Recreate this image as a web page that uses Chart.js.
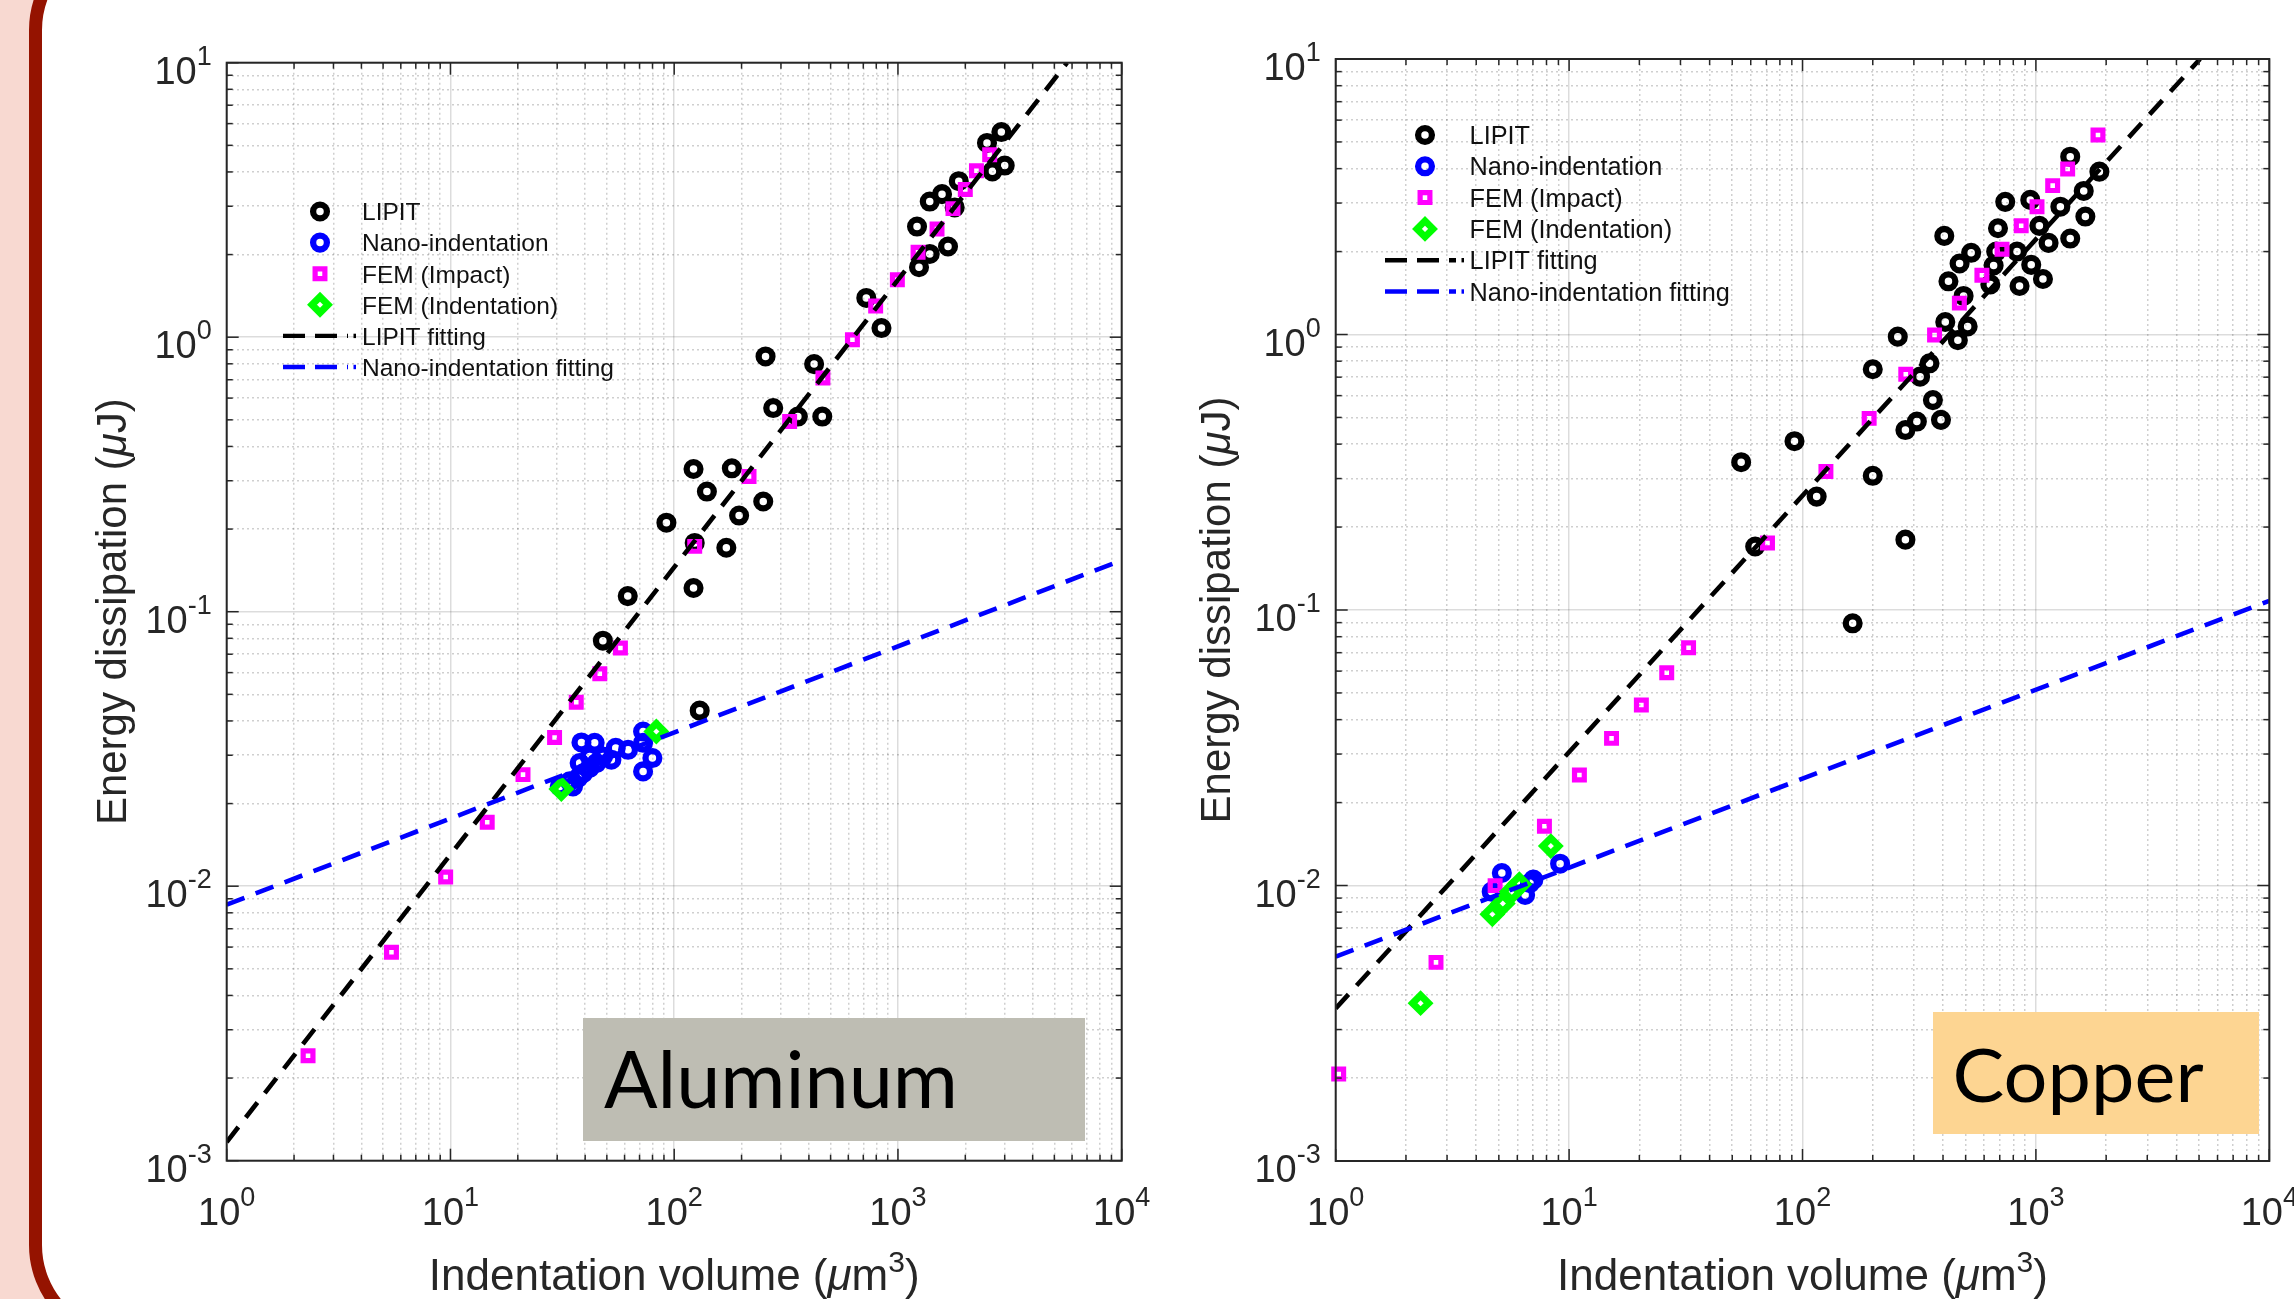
<!DOCTYPE html>
<html><head><meta charset="utf-8">
<script src="https://cdn.jsdelivr.net/npm/chart.js@4.4.1/dist/chart.umd.min.js"></script>
<style>
html,body{margin:0;padding:0;}
body{width:2294px;height:1299px;overflow:hidden;position:relative;background:#f8d9d1;}
#frame{position:absolute;left:29px;top:-70px;width:2400px;height:1415px;box-sizing:border-box;border:13px solid #951300;border-radius:100px;background:#fff;}
canvas{position:absolute;top:0;}
#cAl{left:0;}
#cCu{left:1170px;}
</style></head><body>
<div id="frame"></div>
<canvas id="cAl" width="1170" height="1299"></canvas>
<canvas id="cCu" width="1124" height="1299"></canvas>
<script>
// ---------------- Aluminum data ----------------
const alLipitX = [2899,2500,3000,2643,1870,1574,1387,1793,1217,1674,1387,1242,722,844,256,422,277,357,459,181,122,140,250,195,92.3,123.5,171,122,62,48,130];
const alLipitY = [5.59,5.10,4.22,4.02,3.70,3.32,3.12,2.97,2.53,2.14,2.01,1.80,1.39,1.08,0.851,0.798,0.552,0.514,0.514,0.333,0.331,0.274,0.252,0.224,0.211,0.178,0.171,0.122,0.114,0.0784,0.0436];
const alNanoX = [38.5,44.1,54.8,62.2,52.4,72.6,72.6,79.9,72.6,30.8,34.1,37.2,39.2,41.9,44.9,37.8,41.9,35.3,48.1];
const alNanoY = [0.0334,0.0333,0.0319,0.0314,0.0289,0.0366,0.0333,0.0293,0.0262,0.0231,0.0241,0.0248,0.0258,0.0270,0.0281,0.0281,0.0297,0.0231,0.0297];
const alFemImpX = [2570,2243,2000,1762,1495,1230,994,795,626,462,328,216,123.5,57.5,46.5,36.5,29.2,21.1,14.6,9.52,5.45,2.31];
const alFemImpY = [4.62,4.04,3.45,2.94,2.48,2.04,1.62,1.30,0.979,0.710,0.493,0.311,0.173,0.0738,0.0594,0.0468,0.0348,0.0255,0.0171,0.0108,0.00575,0.00241];
const alFemIndX = [31.3,83.2];
const alFemIndY = [0.0226,0.0366];
const alLipitFitX = [1,5700];
const alLipitFitY = [0.00117,10];
const alNanoFitX = [1,10000];
const alNanoFitY = [0.00857,0.154];

// ---------------- Copper data ----------------
const cuLipitX = [1403,1871,1603,739,946,1273,1629,688,1035,405,1403,1133,528,830,676,471,955,659,422,638,851,1072,490,409,510,463,256,350,319,200,362,309,276,392,200,92.4,54.6,115,62.7,276,164];
const cuLipitY = [4.42,3.90,3.32,3.03,3.08,2.91,2.68,2.43,2.48,2.28,2.23,2.15,1.98,2.00,2.00,1.81,1.79,1.78,1.56,1.52,1.50,1.59,1.38,1.11,1.07,0.954,0.982,0.786,0.703,0.748,0.578,0.483,0.450,0.490,0.307,0.410,0.344,0.258,0.170,0.180,0.0895];
const cuNanoX = [5.15,4.66,6.48,7.03,9.15,6.8];
const cuNanoY = [0.0111,0.0095,0.00924,0.0105,0.0120,0.0102];
const cuFemImpX = [1845,1368,1180,1011,865,716,587,470,368,277,193,126,70.8,32.5,26.2,20.4,15.2,11.07,7.84,4.82,2.69,1.03];
const cuFemImpY = [5.30,3.99,3.47,2.91,2.48,2.04,1.64,1.30,0.996,0.717,0.496,0.318,0.175,0.0730,0.0592,0.0452,0.0342,0.0252,0.0164,0.00999,0.00526,0.00207];
const cuFemIndX = [8.35,2.31,4.69,5.20,5.68,6.12];
const cuFemIndY = [0.0139,0.00374,0.00786,0.00861,0.00949,0.0101];
const cuLipitFitX = [1,5050];
const cuLipitFitY = [0.00358,10];
const cuNanoFitX = [1,10000];
const cuNanoFitY = [0.00552,0.108];

// ---------------- axes / labels ----------------
const xMajor = [1,10,100,1000,10000];
const yMajor = [0.001,0.01,0.1,1,10];
const xTickLabels = ['10^0','10^1','10^2','10^3','10^4'];
const yTickLabels = ['10^-3','10^-2','10^-1','10^0','10^1'];
const legendLabels = ['LIPIT','Nano-indentation','FEM (Impact)','FEM (Indentation)','LIPIT fitting','Nano-indentation fitting'];
const xTitleParts = [{t:'Indentation volume ('},{t:'\u03bc',i:true},{t:'m'},{t:'3',sup:true},{t:')'}];
const yTitleParts = [{t:'Energy dissipation ('},{t:'\u03bc',i:true},{t:'J)'}];

const FONT = '"Liberation Sans", Arial, Helvetica, sans-serif';
const TXT = '#262626';
const COLORS = {lipit:'#000000', nano:'#0000ff', imp:'#ff00ff', ind:'#00ff00'};
const MK = {
  circle:{style:'circle', r:6.9, w:6.3},
  rect:{style:'rect', r:6.9, w:5.2},
  rectRot:{style:'rectRot', r:8, w:7}
};
const DASH = [19,12];

function withMinor(majors){
  const out = [];
  for (let i = 0; i < majors.length; i++) {
    out.push(majors[i]);
    if (i < majors.length - 1) for (let k = 2; k <= 9; k++) out.push(+(majors[i]*k).toPrecision(6));
  }
  return out;
}
function isMajor(v){ const l = Math.log10(v); return Math.abs(l - Math.round(l)) < 1e-6; }
const pts = (xs, ys) => xs.map((x, i) => ({x: x, y: ys[i]}));

function scatterSet(label, xs, ys, mk, color, order){
  return {label, data: pts(xs, ys), showLine:false, pointStyle:mk.style, pointRadius:mk.r, pointHoverRadius:mk.r,
    pointBorderWidth:mk.w, pointHoverBorderWidth:mk.w, pointBorderColor:color, pointBackgroundColor:'rgba(0,0,0,0)',
    borderColor:color, borderWidth:mk.w, backgroundColor:'rgba(0,0,0,0)', order, clip:false};
}
function lineSet(label, xs, ys, color, order){
  return {label, data: pts(xs, ys), showLine:true, borderColor:color, borderWidth:4.6, borderDash:DASH,
    borderCapStyle:'butt', pointRadius:0, pointHoverRadius:0, fill:false, tension:0, order};
}
function scaleOpts(min, max, majors){
  const tv = withMinor(majors);
  return {
    type:'logarithmic', min, max, display:true,
    afterBuildTicks: s => { s.ticks = tv.map(v => ({value:v, major:isMajor(v)})); },
    ticks:{display:false},
    grid:{drawTicks:false, lineWidth:1.5,
      color: c => (c.tick && c.tick.major) ? 'rgba(38,38,38,0.16)' : 'rgba(38,38,38,0.22)'},
    border:{display:false, dash: c => (c.tick && !c.tick.major) ? [2,3] : []}
  };
}

function partsWidth(ctx, parts, size, supSize){
  let w = 0;
  parts.forEach(p => {
    ctx.font = (p.i ? 'italic ' : '') + (p.sup ? supSize : size) + 'px ' + FONT;
    p._w = ctx.measureText(p.t).width; w += p._w;
  });
  return w;
}
function drawParts(ctx, parts, x0, y, size, supSize, supDy){
  let x = x0;
  parts.forEach(p => {
    ctx.font = (p.i ? 'italic ' : '') + (p.sup ? supSize : size) + 'px ' + FONT;
    ctx.fillText(p.t, x, p.sup ? y + supDy : y);
    x += p._w;
  });
}
function supLabel(ctx, label, x, y, align, baseSize, expSize, expDy){
  const [b, e] = label.split('^');
  ctx.font = baseSize + 'px ' + FONT; const wb = ctx.measureText(b).width;
  ctx.font = expSize + 'px ' + FONT; const we = ctx.measureText(e).width;
  const tot = wb + we;
  const x0 = align === 'center' ? x - tot/2 : (align === 'right' ? x - tot : x);
  ctx.textAlign = 'left';
  ctx.font = baseSize + 'px ' + FONT; ctx.fillText(b, x0, y);
  ctx.font = expSize + 'px ' + FONT; ctx.fillText(e, x0 + wb, y + expDy);
}
function drawMarker(ctx, mk, x, y, color){
  ctx.save(); ctx.strokeStyle = color; ctx.lineWidth = mk.w; ctx.setLineDash([]);
  ctx.beginPath();
  if (mk.style === 'circle') ctx.arc(x, y, mk.r, 0, Math.PI*2);
  else if (mk.style === 'rect') { const s = mk.r*Math.SQRT1_2; ctx.rect(x-s, y-s, 2*s, 2*s); }
  else { ctx.moveTo(x-mk.r, y); ctx.lineTo(x, y-mk.r); ctx.lineTo(x+mk.r, y); ctx.lineTo(x, y+mk.r); ctx.closePath(); }
  ctx.stroke(); ctx.restore();
}

const matlabPlugin = {
  id:'matlab',
  afterDraw(chart, args, o){
    const ctx = chart.ctx, a = chart.chartArea, xs = chart.scales.x, ys = chart.scales.y, off = o.offset;
    ctx.save();
    // annotation box
    ctx.fillStyle = o.boxColor;
    ctx.fillRect(o.boxX - off, o.boxY, o.boxW, o.boxH);
    ctx.fillStyle = '#000';
    ctx.font = o.boxFont + 'px Lato, "Open Sans", sans-serif';
    ctx.textAlign = 'left'; ctx.textBaseline = 'alphabetic';
    const mw = ctx.measureText(o.boxText).width;
    ctx.save(); ctx.translate(o.boxTextX - off, o.boxTextY); ctx.scale(o.boxTextW / mw, 1);
    ctx.fillText(o.boxText, 0, 0); ctx.restore();

    // axes box and tick marks
    ctx.strokeStyle = TXT; ctx.setLineDash([]);
    ctx.lineWidth = 1.5;
    const ln = (x1,y1,x2,y2) => { ctx.beginPath(); ctx.moveTo(x1,y1); ctx.lineTo(x2,y2); ctx.stroke(); };
    xs.ticks.forEach(t => {
      const p = xs.getPixelForValue(t.value), L = t.major ? 12 : 6;
      ln(p, a.bottom, p, a.bottom - L); ln(p, a.top, p, a.top + L);
    });
    ys.ticks.forEach(t => {
      const p = ys.getPixelForValue(t.value), L = t.major ? 12 : 6;
      ln(a.left, p, a.left + L, p); ln(a.right, p, a.right - L, p);
    });
    ctx.lineWidth = 2;
    ctx.strokeRect(a.left, a.top, a.right - a.left, a.bottom - a.top);

    // tick labels
    ctx.fillStyle = TXT; ctx.textBaseline = 'alphabetic';
    xMajor.forEach((v, i) => supLabel(ctx, xTickLabels[i], xs.getPixelForValue(v), a.bottom + 64, 'center', 38, 27, -19));
    yMajor.forEach((v, i) => supLabel(ctx, yTickLabels[i], a.left - 15, ys.getPixelForValue(v) + 21, 'right', 38, 27, -19));

    // axis titles
    ctx.textAlign = 'left';
    const wx = partsWidth(ctx, xTitleParts, 44, 30);
    drawParts(ctx, xTitleParts, (a.left + a.right)/2 - wx/2, o.xTitleY, 44, 30, -18);
    const wy = partsWidth(ctx, yTitleParts, 42, 30);
    ctx.save(); ctx.translate(o.yTitleX - off, (a.top + a.bottom)/2); ctx.rotate(-Math.PI/2);
    drawParts(ctx, yTitleParts, -wy/2, 0, 42, 30, -18); ctx.restore();

    // legend
    const mks = [[MK.circle, COLORS.lipit],[MK.circle, COLORS.nano],[MK.rect, COLORS.imp],[MK.rectRot, COLORS.ind]];
    legendLabels.forEach((lab, i) => {
      const y = o.legY0 + i*o.legDy;
      if (i < 4) drawMarker(ctx, mks[i][0], o.legMarkX - off, y, mks[i][1]);
      else {
        ctx.save(); ctx.strokeStyle = i === 4 ? '#000' : '#0000ff'; ctx.lineWidth = 4.4;
        ctx.setLineDash([22,10]); ctx.beginPath(); ctx.moveTo(o.legLine0 - off, y); ctx.lineTo(o.legLine1 - off - 8, y); ctx.stroke();
        ctx.setLineDash([]); ctx.beginPath(); ctx.moveTo(o.legLine1 - off - 2.5, y); ctx.lineTo(o.legLine1 - off, y); ctx.stroke();
        ctx.restore();
      }
      ctx.font = o.legFont + 'px ' + FONT; ctx.fillStyle = '#111';
      ctx.fillText(lab, o.legTextX - off, y + o.legFont*0.36);
    });
    ctx.restore();
  }
};

function makeChart(id, d, pad, opts){
  return new Chart(document.getElementById(id), {
    type:'scatter',
    data:{datasets:[
      scatterSet(legendLabels[0], d.lipitX, d.lipitY, MK.circle, COLORS.lipit, 6),
      scatterSet(legendLabels[1], d.nanoX, d.nanoY, MK.circle, COLORS.nano, 5),
      scatterSet(legendLabels[2], d.impX, d.impY, MK.rect, COLORS.imp, 4),
      scatterSet(legendLabels[3], d.indX, d.indY, MK.rectRot, COLORS.ind, 3),
      lineSet(legendLabels[4], d.lfitX, d.lfitY, '#000000', 2),
      lineSet(legendLabels[5], d.nfitX, d.nfitY, '#0000ff', 1)
    ]},
    options:{
      responsive:false, animation:false, devicePixelRatio:1, events:[],
      layout:{padding:pad, autoPadding:false},
      plugins:{legend:{display:false}, tooltip:{enabled:false}, matlab:opts},
      scales:{x:scaleOpts(1, 10000, xMajor), y:scaleOpts(0.001, 10, yMajor)}
    },
    plugins:[matlabPlugin]
  });
}

makeChart('cAl',
  {lipitX:alLipitX, lipitY:alLipitY, nanoX:alNanoX, nanoY:alNanoY, impX:alFemImpX, impY:alFemImpY,
   indX:alFemIndX, indY:alFemIndY, lfitX:alLipitFitX, lfitY:alLipitFitY, nfitX:alNanoFitX, nfitY:alNanoFitY},
  {left:226.7, top:62.7, right:1170-1121.7, bottom:1299-1160.7},
  {offset:0, boxX:583, boxY:1018, boxW:502, boxH:123, boxColor:'#bebdb3', boxText:'Aluminum', boxFont:80,
   boxTextX:604, boxTextY:1108, boxTextW:354, xTitleY:1290, yTitleX:126,
   legMarkX:320, legTextX:362, legY0:211.5, legDy:31.1, legLine0:283, legLine1:356, legFont:24.5});

makeChart('cCu',
  {lipitX:cuLipitX, lipitY:cuLipitY, nanoX:cuNanoX, nanoY:cuNanoY, impX:cuFemImpX, impY:cuFemImpY,
   indX:cuFemIndX, indY:cuFemIndY, lfitX:cuLipitFitX, lfitY:cuLipitFitY, nfitX:cuNanoFitX, nfitY:cuNanoFitY},
  {left:1335.7-1170, top:59, right:2294-2269.3, bottom:1299-1161},
  {offset:1170, boxX:1933, boxY:1012, boxW:326, boxH:122, boxColor:'#fdd592', boxText:'Copper', boxFont:73,
   boxTextX:1952.6, boxTextY:1101.5, boxTextW:251, xTitleY:1290, yTitleX:1230,
   legMarkX:1425, legTextX:1469.6, legY0:135, legDy:31.3, legLine0:1385, legLine1:1464, legFont:25.3});
</script>
</body></html>
